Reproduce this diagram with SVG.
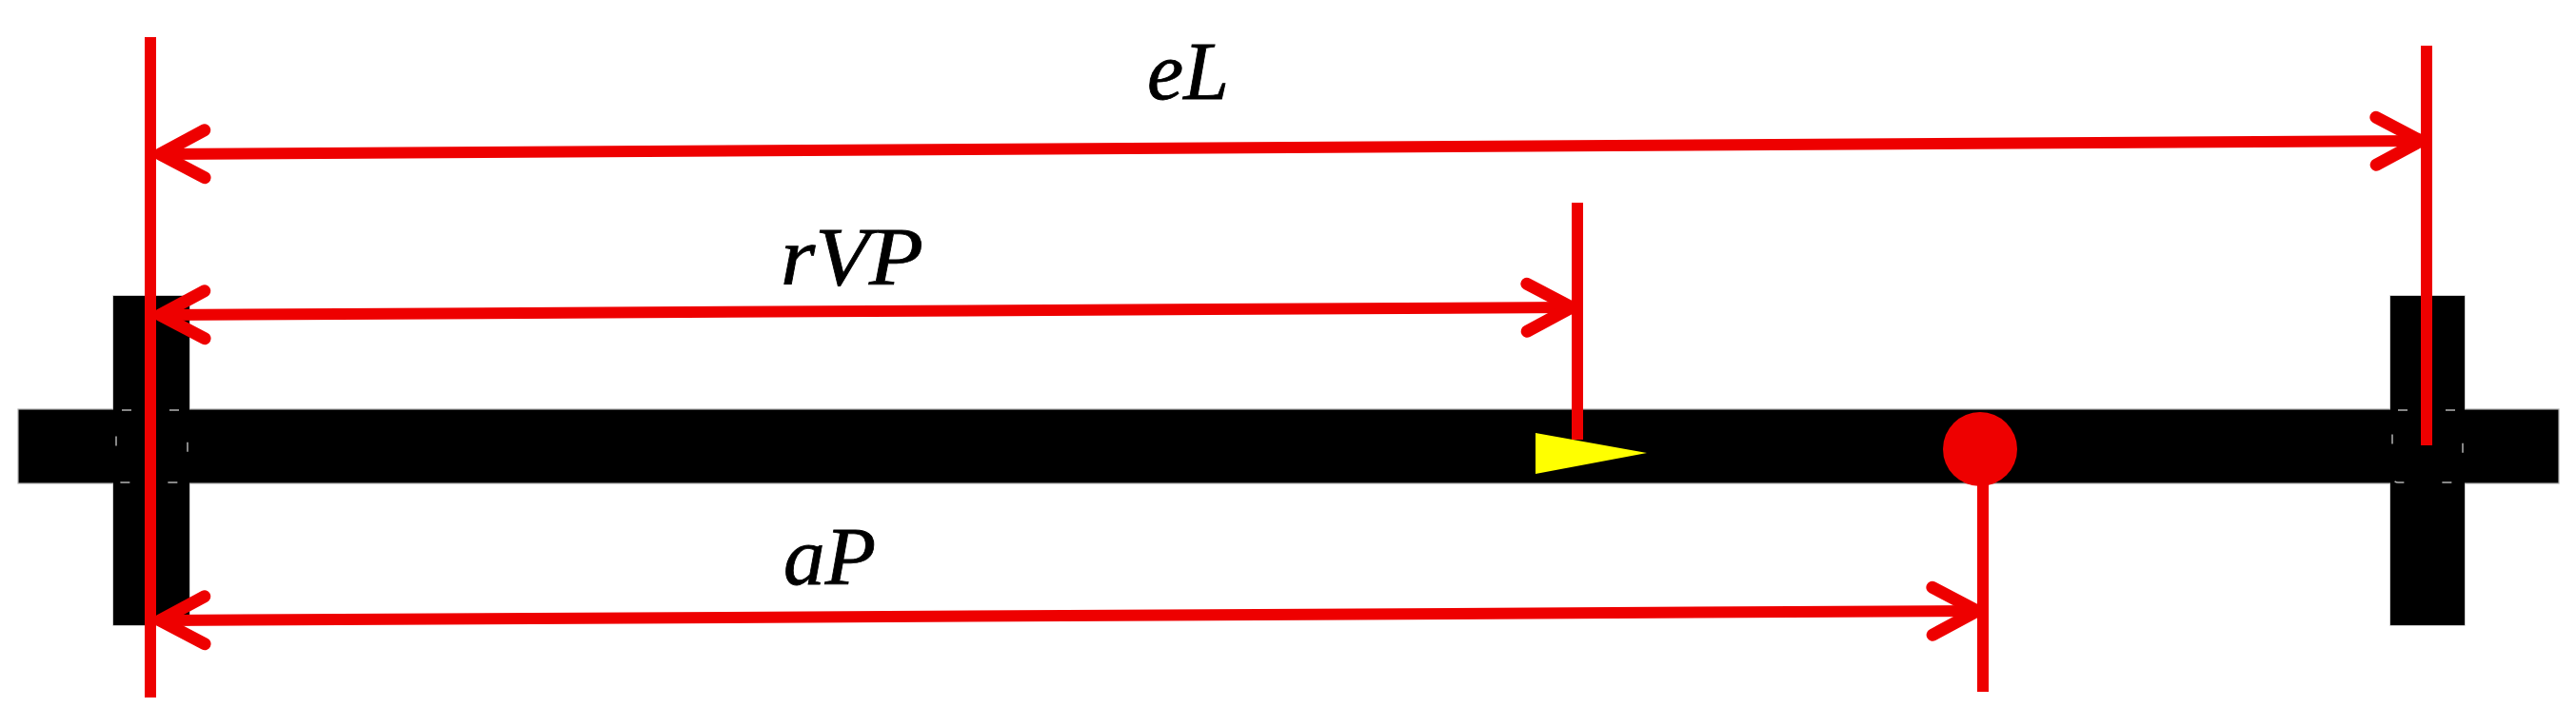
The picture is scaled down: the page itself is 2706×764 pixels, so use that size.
<svg xmlns="http://www.w3.org/2000/svg" width="2706" height="764" viewBox="0 0 2706 764">
<style>
.bar{fill:#000;stroke:#b0b0b0;stroke-width:1.2}
.joint{fill:none;stroke:#fff;stroke-width:1.5;stroke-dasharray:10 40;opacity:0.7}
.red{fill:none;stroke:#ee0000;stroke-width:12;stroke-linecap:butt}
.dim{fill:none;stroke:#ee0000;stroke-width:12;marker-start:url(#chev);marker-end:url(#chev)}
.lbl{font-family:"Liberation Serif","DejaVu Serif",serif;font-style:italic;font-size:86px;fill:#000;stroke:#000;stroke-width:0.8}
</style>
<defs>
<marker id="chev" markerUnits="userSpaceOnUse" markerWidth="100" markerHeight="100" viewBox="-70 -50 100 100" refX="0" refY="0" orient="auto-start-reverse" overflow="visible">
<path d="M-47,-25 L0,0 L-47,25" fill="none" stroke="#ee0000" stroke-width="13" stroke-linecap="round" stroke-linejoin="round"/>
</marker>
</defs>
<rect width="2706" height="764" fill="#fff"/>
<g id="support-left">
<rect class="bar" x="119" y="311" width="80" height="346"/>
</g>
<g id="support-right">
<rect class="bar" x="2511" y="311" width="78" height="346"/>
</g>
<g id="track">
<rect class="bar" x="19" y="430" width="2669" height="78"/>
<rect x="119" y="311" width="80" height="346" fill="#000"/>
<rect x="2511" y="311" width="78" height="346" fill="#000"/>
<rect class="joint" x="122" y="431" width="75" height="76" rx="6"/>
<rect class="joint" x="2513" y="431" width="74" height="76" rx="6"/>
</g>
<g id="vehicle-position">
<polygon points="1613,455 1730,476 1613,498" fill="#ffff00"/>
</g>
<g id="actual-position">
<circle cx="2080" cy="472" r="39" fill="#ee0000"/>
</g>
<g id="connectors">
<line class="red" x1="158" y1="39" x2="158" y2="733"/>
<line class="red" x1="2549" y1="48" x2="2549" y2="468"/>
<line class="red" x1="1657" y1="213" x2="1657" y2="462"/>
<line class="red" x1="2083" y1="472" x2="2083" y2="727"/>
<line class="dim" x1="168" y1="162" x2="2543" y2="148"/>
<line class="dim" x1="168" y1="331" x2="1651" y2="323"/>
<line class="dim" x1="168" y1="652" x2="2077" y2="642"/>
</g>
<g id="label-eL"><text class="lbl" x="1205" y="104" textLength="86" lengthAdjust="spacingAndGlyphs">eL</text></g>
<g id="label-rVP"><text class="lbl" x="820" y="299" textLength="150" lengthAdjust="spacingAndGlyphs">rVP</text></g>
<g id="label-aP"><text class="lbl" x="823" y="614" textLength="97" lengthAdjust="spacingAndGlyphs">aP</text></g>
</svg>
